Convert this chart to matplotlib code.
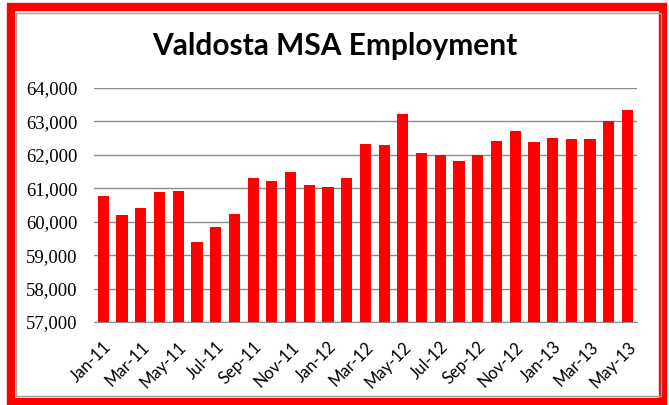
import matplotlib.pyplot as plt
from matplotlib.patches import Rectangle

months = ["Jan-11", "Feb-11", "Mar-11", "Apr-11", "May-11", "Jun-11", "Jul-11", "Aug-11",
          "Sep-11", "Oct-11", "Nov-11", "Dec-11", "Jan-12", "Feb-12", "Mar-12", "Apr-12",
          "May-12", "Jun-12", "Jul-12", "Aug-12", "Sep-12", "Oct-12", "Nov-12", "Dec-12",
          "Jan-13", "Feb-13", "Mar-13", "Apr-13", "May-13"]
employment = [60760, 60190, 60420, 60890, 60920, 59380, 59830, 60220,
              61310, 61210, 61500, 61110, 61050, 61310, 62330, 62300,
              63210, 62070, 62000, 61830, 62000, 62400, 62720, 62370,
              62490, 62460, 62460, 63010, 63340]
yticks = [57000, 58000, 59000, 60000, 61000, 62000, 63000, 64000]

fig = plt.figure(figsize=(6.69, 4.05), dpi=100, facecolor="white")

# red frame and thin gray inner border
fig.patches.append(Rectangle((0.0165, 0.0075), 0.974, 0.975, transform=fig.transFigure,
                             facecolor="none", edgecolor="#ff0000", linewidth=6, zorder=0))
fig.patches.append(Rectangle((0.0235, 0.022), 0.964, 0.947, transform=fig.transFigure,
                             facecolor="none", edgecolor="#a0a0a0", linewidth=1, zorder=0))

ax = fig.add_axes([0.1405, 0.2049, 0.8115, 0.5778])
ax.set_zorder(2)
x = range(len(months))
ax.bar(x, employment, width=0.6, color="#ff0000", zorder=3)

ax.set_ylim(57000, 64000)
ax.set_xlim(-0.5, len(months) - 0.5)
ax.set_yticks(yticks)
ax.set_yticklabels([f"{v:,}" for v in yticks], family="Liberation Serif", fontsize=13.5)
ax.set_xticks(list(x)[::2])
ax.set_xticklabels(months[::2], rotation=45, ha="right", va="top",
                   rotation_mode="anchor", family="Lato", fontsize=12)
ax.tick_params(axis="y", length=0, pad=12)
ax.tick_params(axis="x", length=0, pad=12)

ax.grid(axis="y", color="#8c8c8c", linewidth=1, zorder=0)
for s in ["top", "right", "left"]:
    ax.spines[s].set_visible(False)
ax.spines["bottom"].set_color("#8c8c8c")
ax.patch.set_alpha(0)

fig.text(0.5, 1 - 46 / 405, "Valdosta MSA Employment", ha="center", va="center",
         family="Lato", fontweight="bold", fontsize=21.5)

plt.savefig("out.png", dpi=100)
